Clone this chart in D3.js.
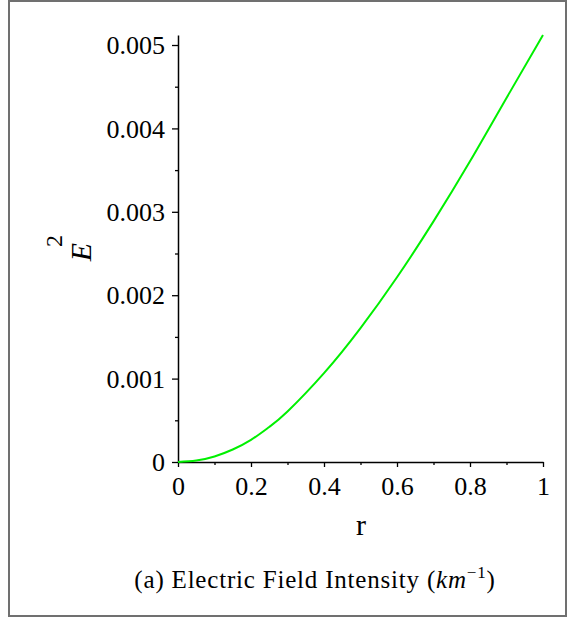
<!DOCTYPE html>
<html>
<head>
<meta charset="utf-8">
<script src="https://cdn.jsdelivr.net/npm/d3@7"></script>
<style>
	body { margin: 0; background: #fff; }
	svg text { font-family: "Liberation Serif", "Times New Roman", serif; fill: #000; }
</style>
</head>
<body>
<svg id="fig" width="568" height="618"></svg>
<script>
// values
const rValues = [0, 0.05, 0.1, 0.15, 0.2, 0.25, 0.3, 0.4, 0.5, 0.6, 0.7, 0.8, 0.9, 1.0];
const e2Values = [0, 0.000017, 0.000066, 0.00015, 0.000265, 0.00042, 0.000605, 0.001065, 0.001605, 0.002215, 0.002885, 0.003605, 0.004365, 0.00512];

const xMajorTicks = [0, 0.2, 0.4, 0.6, 0.8, 1];
const xMinorTicks = [0.1, 0.3, 0.5, 0.7, 0.9];
const yMajorTicks = [0, 0.001, 0.002, 0.003, 0.004, 0.005];
const yMinorTicks = [0.0005, 0.0015, 0.0025, 0.0035, 0.0045];

const svg = d3.select('#fig');

// frame round the whole figure
svg.append('rect')
	.attr('x', 9).attr('y', 1)
	.attr('width', 557).attr('height', 615)
	.attr('fill', 'none')
	.attr('stroke', '#707070')
	.attr('stroke-width', 2);

const x = d3.scaleLinear().domain([0, 1]).range([178, 543]);
const y = d3.scaleLinear().domain([0, 0.00512]).range([462, 35]);

const fmt = d => d === 0 ? '0' : String(d);

// minor ticks first, then the main axes
svg.append('g')
	.attr('transform', 'translate(0,' + y(0) + ')')
	.call(d3.axisBottom(x).tickValues(xMinorTicks).tickSize(3).tickFormat(''))
	.call(g => g.select('.domain').remove())
	.call(g => g.selectAll('line').attr('stroke-width', 1.3));

svg.append('g')
	.attr('transform', 'translate(' + x(0) + ',0)')
	.call(d3.axisLeft(y).tickValues(yMinorTicks).tickSize(3).tickFormat(''))
	.call(g => g.select('.domain').remove())
	.call(g => g.selectAll('line').attr('stroke-width', 1.3));

const xAxis = svg.append('g')
	.attr('transform', 'translate(0,' + y(0) + ')')
	.call(d3.axisBottom(x).tickValues(xMajorTicks).tickSize(5).tickSizeOuter(0).tickPadding(10).tickFormat(fmt));

const yAxis = svg.append('g')
	.attr('transform', 'translate(' + x(0) + ',0)')
	.call(d3.axisLeft(y).tickValues(yMajorTicks).tickSize(6).tickSizeOuter(0).tickPadding(7).tickFormat(fmt));

[xAxis, yAxis].forEach(g => {
	g.selectAll('text')
		.style('font-family', '"Liberation Serif", serif')
		.style('font-size', '26px')
		.attr('fill', '#000');
	g.selectAll('line').attr('stroke-width', 1.3);
	g.select('.domain').attr('stroke-width', 1.5);
});
yAxis.selectAll('text').attr('dy', '0.33em');
xAxis.selectAll('text').attr('dy', '0.68em');

// curve
const line = d3.line()
	.x((d, i) => x(rValues[i]))
	.y(d => y(d))
	.curve(d3.curveNatural);

svg.append('path')
	.datum(e2Values)
	.attr('d', line)
	.attr('fill', 'none')
	.attr('stroke', '#00f000')
	.attr('stroke-width', 2);

// axis titles
svg.append('text')
	.attr('x', 361).attr('y', 535)
	.attr('text-anchor', 'middle')
	.style('font-size', '30px')
	.text('r');

svg.append('text')
	.attr('transform', 'translate(91,252) rotate(-90)')
	.attr('text-anchor', 'middle')
	.style('font-size', '30px')
	.style('font-style', 'italic')
	.text('E');

svg.append('text')
	.attr('transform', 'translate(62,241) rotate(-90)')
	.attr('text-anchor', 'middle')
	.style('font-size', '24px')
	.text('2');

// caption
const cap = svg.append('text')
	.attr('x', 315).attr('y', 588)
	.attr('text-anchor', 'middle')
	.style('font-size', '25px')
	.style('letter-spacing', '0.8px');
cap.append('tspan').text('(a) Electric Field Intensity (');
cap.append('tspan').style('font-style', 'italic').text('km');
cap.append('tspan').attr('dy', -10).style('font-size', '17px').text('\u22121');
cap.append('tspan').attr('dy', 10).text(')');
</script>
</body>
</html>
